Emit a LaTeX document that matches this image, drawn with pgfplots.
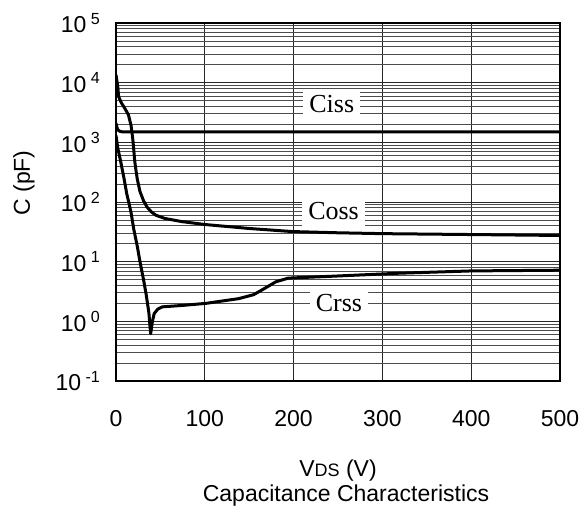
\documentclass[border=0pt]{standalone}
\usepackage{fontspec}
\setmainfont{Liberation Sans}
\newfontfamily\labfont{Liberation Serif}
\usepackage{pgfplots}
\pgfplotsset{compat=1.18}

\begin{document}
\begin{tikzpicture}
\begin{axis}[
  width=222pt, height=179pt, scale only axis,
  font=\fontsize{11.5}{13}\selectfont,
  xmin=0, xmax=500, ymode=log, ymin=0.1, ymax=1e5,
  xtick={0,100,200,300,400,500},
  ytick={1e-1,1,10,100,1000,10000,100000},
  yticklabels={10\textsuperscript{ -1},10\textsuperscript{ 0},10\textsuperscript{ 1},10\textsuperscript{ 2},10\textsuperscript{ 3},10\textsuperscript{ 4},10\textsuperscript{ 5}},
  /pgf/number format/assume math mode=true,
  xticklabel style={yshift=-11pt},
  yticklabel style={xshift=-4pt},
  major tick length=0pt, minor tick length=0pt,
  grid=both,
  major grid style={black!85, line width=0.5pt},
  minor grid style={black!70, line width=0.4pt},
  axis line style={line width=1.2pt},
]
% Ciss
\addplot[black, line width=1.5pt, line join=round, no markers] coordinates {(0,2100) (1,1800) (2,1620) (4,1540) (7,1500) (500,1500)};
% Coss
\addplot[black, line width=1.5pt, line join=round, no markers] coordinates {(0,13500) (2,8500) (3,5800) (6,4600) (10,3700) (14,2900) (17,1900)
  (19,1100) (20,750) (21,500) (22,380) (24,240) (27,150) (31,105) (35,82) (40,68)
  (45,60) (55,53) (74,47) (100,42) (150,36) (198,32) (250,30.5) (300,29.5) (400,28.5) (500,27.5)};
% Crss
\addplot[black, line width=1.5pt, line join=round, no markers] coordinates {(0,1300) (2,800) (5,500) (9,250) (12,140) (15,90) (17,66) (20,35)
  (24,18) (27,10) (31,5) (34,2.8) (37,1.4) (39,0.62) (41,1.0) (43,1.35) (47,1.6) (52,1.75)
  (75,1.85) (101,2.0) (138,2.4) (155,2.8) (165,3.4) (180,4.6) (194,5.3) (243,5.7)
  (318,6.4) (400,7.0) (500,7.2)};
\node[fill=white, inner sep=3pt, font=\labfont\fontsize{13}{15}\selectfont] at (axis cs:243,4400) {Ciss};
\node[fill=white, inner sep=3pt, font=\labfont\fontsize{13}{15}\selectfont] at (axis cs:245,70) {Coss};
\node[fill=white, inner sep=3pt, font=\labfont\fontsize{13}{15}\selectfont] at (axis cs:251,2.0) {Crss};
\end{axis}
\node[font=\fontsize{11.5}{13}\selectfont] at ([yshift=-45pt]current axis.south) {V{\fontsize{9}{10}\selectfont DS} (V)};
\node[font=\fontsize{11.5}{13}\selectfont] at ([xshift=4pt,yshift=-57.5pt]current axis.south) {Capacitance Characteristics};
\node[font=\fontsize{11.5}{13}\selectfont, rotate=90] at ([xshift=-46pt,yshift=9.5pt]current axis.west) {C (pF)};
\pgfresetboundingbox
\path ([xshift=-58pt,yshift=-64.5pt]current axis.south west) rectangle ([xshift=9.5pt,yshift=11.5pt]current axis.north east);
\end{tikzpicture}
\end{document}
